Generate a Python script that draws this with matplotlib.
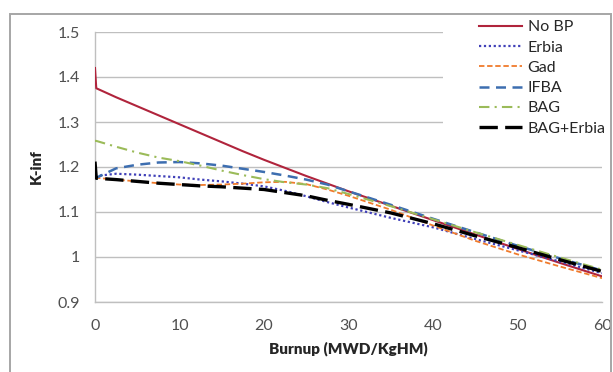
import matplotlib
matplotlib.use("Agg")
import matplotlib.pyplot as plt
from matplotlib.patches import Rectangle

# Burnup steps (MWD/KgHM)
burnup = [0, 0.15, 2.5, 5, 7.5, 10, 12.5, 15, 17.5, 20, 22.5, 25, 27.5, 30,
          35, 40, 45, 50, 55, 60]

# K-inf for each burnable-poison option
k_no_bp = [1.420, 1.375, 1.355, 1.335, 1.315, 1.295, 1.275, 1.255, 1.235, 1.216,
           1.198, 1.180, 1.163, 1.146, 1.114, 1.082, 1.050, 1.018, 0.987, 0.957]
k_erbia = [1.180, 1.180, 1.185, 1.183, 1.180, 1.177, 1.172, 1.168, 1.163, 1.157,
           1.147, 1.135, 1.122, 1.110, 1.087, 1.066, 1.040, 1.015, 0.990, 0.964]
k_gad = [1.176, 1.176, 1.172, 1.168, 1.164, 1.161, 1.160, 1.161, 1.163, 1.166,
         1.167, 1.162, 1.150, 1.136, 1.105, 1.070, 1.036, 1.006, 0.979, 0.953]
k_ifba = [1.182, 1.176, 1.197, 1.205, 1.210, 1.211, 1.208, 1.203, 1.196, 1.189,
          1.181, 1.172, 1.161, 1.146, 1.116, 1.085, 1.055, 1.025, 0.997, 0.970]
k_bag = [1.258, 1.258, 1.245, 1.232, 1.221, 1.213, 1.203, 1.192, 1.182, 1.173,
         1.166, 1.161, 1.153, 1.140, 1.113, 1.084, 1.055, 1.027, 0.999, 0.972]
k_bag_erbia = [1.212, 1.175, 1.172, 1.168, 1.164, 1.161, 1.158, 1.156, 1.153, 1.150,
               1.143, 1.136, 1.126, 1.117, 1.098, 1.074, 1.047, 1.021, 0.994, 0.968]

series_labels = ["No BP", "Erbia", "Gad", "IFBA", "BAG", "BAG+Erbia"]
x_ticks = [0, 10, 20, 30, 40, 50, 60]
y_ticks = [0.9, 1.0, 1.1, 1.2, 1.3, 1.4, 1.5]
y_tick_labels = ["0.9", "1", "1.1", "1.2", "1.3", "1.4", "1.5"]

plt.rcParams["font.family"] = ["Lato", "DejaVu Sans"]

fig = plt.figure(figsize=(6.13, 3.72), dpi=100)
ax = fig.add_axes([95 / 613, 1 - 302 / 372, 507 / 613, 270 / 372])

# outer chart border
fig.add_artist(Rectangle((10 / 613, -0.1), 601 / 613, 1.1 - 14 / 372,
                         transform=fig.transFigure, fill=False,
                         edgecolor="#a6a6a6", linewidth=1.4))

styles = [
    dict(color="#b0243c", linestyle="-", linewidth=1.5),
    dict(color="#4040b8", linestyle=(0, (1, 1.2)), linewidth=1.6),
    dict(color="#f07b2c", linestyle=(0, (3, 1.5)), linewidth=1.3),
    dict(color="#3d6eb0", linestyle=(0, (4, 2.6)), linewidth=1.8),
    dict(color="#9bbb59", linestyle=(0, (5, 2.5, 1, 2.5)), linewidth=1.5),
    dict(color="#000000", linestyle=(0, (5.5, 2.2)), linewidth=2.4),
]
data = [k_no_bp, k_erbia, k_gad, k_ifba, k_bag, k_bag_erbia]
for vals, lab, st in zip(data, series_labels, styles):
    ax.plot(burnup, vals, label=lab, zorder=3, **st)

ax.set_xlim(0, 60)
ax.set_ylim(0.9, 1.5)
ax.set_xticks(x_ticks)
ax.set_yticks(y_ticks)
ax.set_yticklabels(y_tick_labels)
ax.tick_params(length=0, labelsize=11.5, labelcolor="#505050")
ax.tick_params(axis="x", pad=12)
ax.tick_params(axis="y", pad=11)
ax.grid(axis="y", color="#bfbfbf", linewidth=1.0, zorder=0)
ax.set_axisbelow(True)
for side in ("top", "right"):
    ax.spines[side].set_visible(False)
for side in ("left", "bottom"):
    ax.spines[side].set_color("#bfbfbf")
    ax.spines[side].set_linewidth(1.0)

ax.set_xlabel("Burnup (MWD/KgHM)", fontsize=11, fontweight="heavy",
              color="#262626", labelpad=6)
ax.set_ylabel("K-inf", fontsize=11, fontweight="heavy", color="#262626",
              labelpad=10)

# white area behind the legend
ax.add_patch(Rectangle((0.686, 0.60), 0.33, 0.47, transform=ax.transAxes,
                       facecolor="white", edgecolor="none", clip_on=False,
                       zorder=2))
leg = ax.legend(loc="upper left", bbox_to_anchor=(0.735, 1.085),
                frameon=False, fontsize=11.5, handlelength=2.7,
                handletextpad=0.35, labelspacing=0.38, borderpad=0.2)
for t in leg.get_texts():
    t.set_color("#262626")
leg.set_zorder(4)

fig.savefig("out.png", dpi=100)
